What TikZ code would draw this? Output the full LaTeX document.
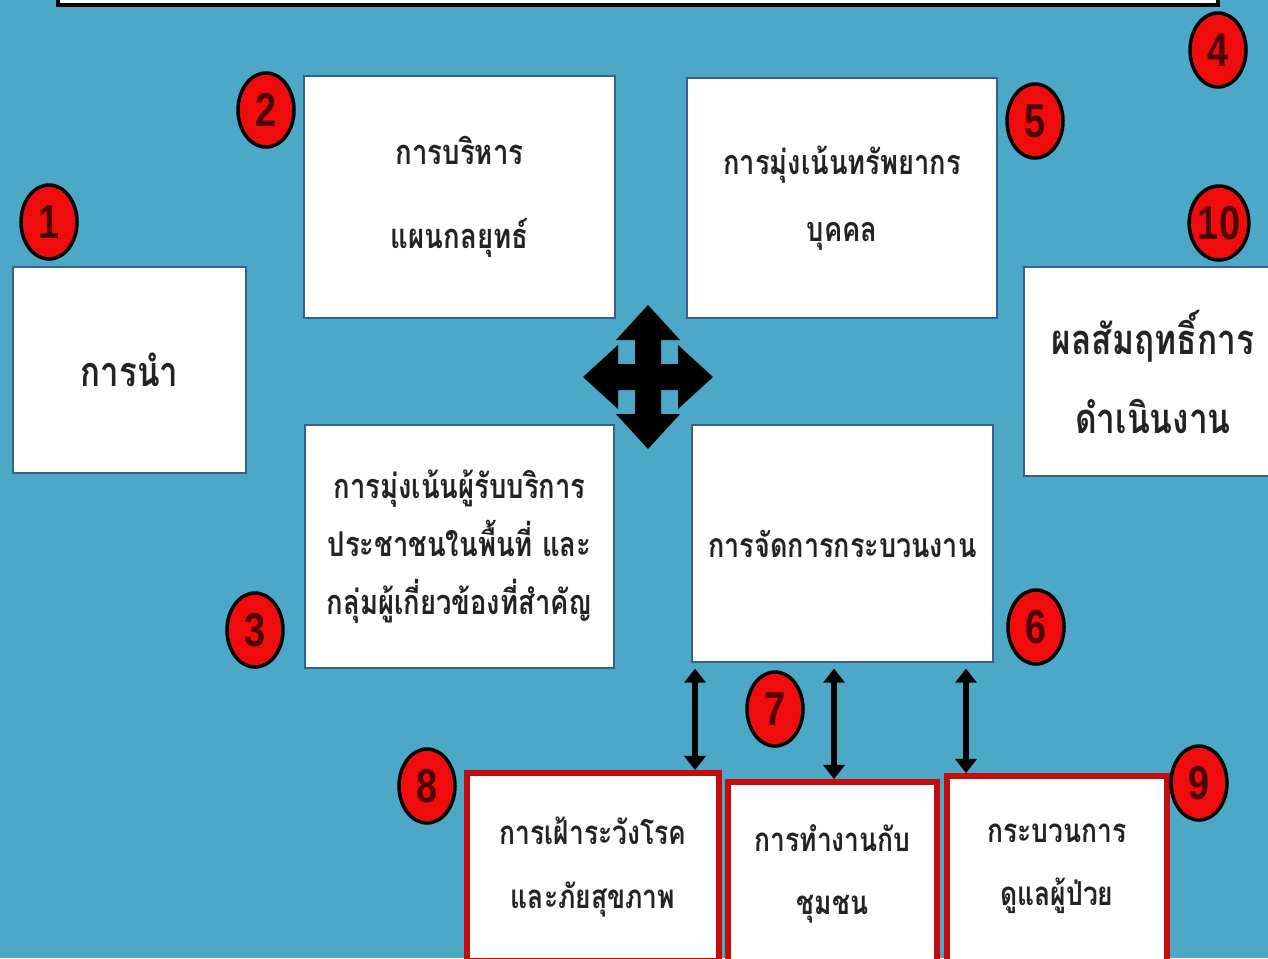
\documentclass[tikz,border=0pt]{standalone}
\usepackage{fontspec}
\newfontfamily\thaifont[Script=Thai, FakeStretch=0.8]{Loma}
\newfontfamily\digitfont[FakeStretch=0.8]{Liberation Sans}
\usepackage{tikz}
\usetikzlibrary{arrows.meta, positioning, shapes.geometric}
\definecolor{bgteal}{RGB}{76,168,198}
\definecolor{boxblue}{RGB}{52,98,140}
\definecolor{boxred}{RGB}{196,12,12}
\definecolor{badgered}{RGB}{240,12,12}
\definecolor{textgray}{RGB}{35,35,35}
\newcommand{\boxfont}[2]{\thaifont\bfseries\fontsize{#1}{#2}\selectfont}

\begin{document}
\begin{tikzpicture}[x=0.02cm, y=-0.02cm,
    % Base style for the white boxes
    box/.style={draw=boxblue, line width=1.6pt, fill=white, inner sep=0pt, align=center, text=textgray, anchor=center},
    % Lower boxes with red frame
    redbox/.style={box, draw=boxred, line width=3.4pt},
    % Numbered red badges
    badge/.style={ellipse, draw=black, line width=2pt, fill=badgered, inner sep=0pt,
        minimum width=1.12cm, minimum height=1.48cm, font=\digitfont\bfseries\fontsize{27}{27}\selectfont, text=black!70!red},
    dblarrow/.style={{Triangle[width=12pt, length=8pt]}-{Triangle[width=12pt, length=8pt]}, line width=3pt, black}
]

% Background
\useasboundingbox (0,0) rectangle (1268,958);
\clip (0,0) rectangle (1268,958);
\fill[bgteal] (0,0) rectangle (1268,958);

% Top banner (cut by the upper edge)
\node[box, draw=black, line width=2pt, minimum width=23.2cm, minimum height=1.3cm] (banner) at (638,-27.5) {};

% Upper boxes
\node[box, minimum width=4.66cm, minimum height=4.12cm, font=\boxfont{23.5}{40}] (lead) at (129.5,370) {การนำ};
\node[box, minimum width=6.22cm, minimum height=4.84cm, font=\boxfont{19.6}{48}] (strat) at (459.5,197) {การบริหาร\\แผนกลยุทธ์};
\node[box, minimum width=6.2cm, minimum height=4.8cm, font=\boxfont{19.4}{38}] (staff) at (842,198) {การมุ่งเน้นทรัพยากร\\บุคคล};
\node[box, minimum width=5.16cm, minimum height=4.18cm, font=\boxfont{23.8}{45}] (result) at (1153,371.5) {ผลสัมฤทธิ์การ\\ดำเนินงาน};
\node[box, minimum width=6.18cm, minimum height=4.86cm, font=\boxfont{19.5}{33}] (client) at (459.5,546.5) {การมุ่งเน้นผู้รับบริการ\\ประชาชนในพื้นที่ และ\\กลุ่มผู้เกี่ยวข้องที่สำคัญ};
\node[box, minimum width=6.02cm, minimum height=4.74cm, font=\boxfont{19.2}{33}] (proc) at (842.5,543.5) {การจัดการกระบวนงาน};

% Lower boxes
\node[redbox, minimum width=5.04cm, minimum height=3.76cm, font=\boxfont{18.8}{36}] (watch) at (593,867) {การเฝ้าระวังโรค\\และภัยสุขภาพ};
\node[redbox, minimum width=4.18cm, minimum height=3.68cm, font=\boxfont{18.8}{36}] (comm) at (832.5,874) {การทำงานกับ\\ชุมชน};
\node[redbox, minimum width=4.4cm, minimum height=3.72cm, font=\boxfont{18.8}{36}] (care) at (1057,869) {กระบวนการ\\ดูแลผู้ป่วย};

% Badges
\node[badge] (n1) at (49,222) {1};
\node[badge] (n2) at (266,110) {2};
\node[badge] (n3) at (255,630) {3};
\node[badge] (n4) at (1218,50) {4};
\node[badge] (n5) at (1035,121) {5};
\node[badge] (n6) at (1036,627) {6};
\node[badge] (n7) at (775,709) {7};
\node[badge] (n8) at (427,786) {8};
\node[badge] (n9) at (1199,783) {9};
\node[badge] (n10) at (1219,223) {10};

% Four-way arrow in the middle
\fill[black, shift={(648,377)}] (0,-72) -- (32,-37) -- (13,-37) -- (13,-13) -- (30,-13) -- (30,-32)
    -- (65,0) -- (30,32) -- (30,13) -- (13,13) -- (13,37) -- (32,37) -- (0,72) -- (-32,37)
    -- (-13,37) -- (-13,13) -- (-30,13) -- (-30,32) -- (-65,0) -- (-30,-32) -- (-30,-13)
    -- (-13,-13) -- (-13,-37) -- (-32,-37) -- cycle;

% Arrows between process box and lower boxes
\coordinate (c8) at (695,0);
\coordinate (c7) at (834,0);
\coordinate (c9) at (966,0);
\draw[dblarrow, shorten <=3pt] (proc.south -| c8) -- (watch.north -| c8);
\draw[dblarrow, shorten <=3pt] (proc.south -| c7) -- (comm.north -| c7);
\draw[dblarrow, shorten <=3pt] (proc.south -| c9) -- (care.north -| c9);

\end{tikzpicture}
\end{document}
